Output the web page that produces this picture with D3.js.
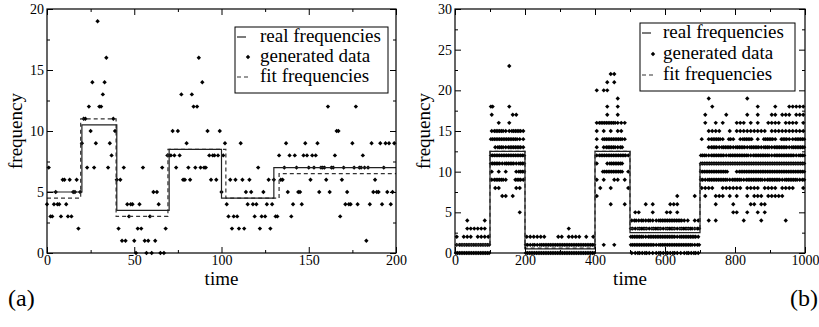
<!DOCTYPE html>
<html>
<head>
<meta charset="utf-8">
<script src="https://cdn.jsdelivr.net/npm/d3@7"></script>
<style>
  body { margin: 0; background: #fff; }
  svg text { font-family: "Liberation Serif", "Times New Roman", Times, "DejaVu Serif", serif; fill: #000; }
</style>
</head>
<body>
<svg id="chart" width="819" height="327"></svg>
<script>
// ---------- panel (a) data ----------
// generated data, one value per time step (index = time)
const freqA = [
  4, 7, 3, 3, 4, 5, 4, 4, 3, 6, 6, 4, 3, 6, 3, 5, 5, 6, 2, 5,
  9, 11, 11, 7, 12, 10, 14, 7, 9, 19, 12, 12, 13, 14, 16, 7, 9, 8, 11, 10,
  6, 2, 6, 1, 7, 1, 4, 3, 4, 4, 1, 0, 2, 4, 2, 7, 1, 0, 1, 3, 0, 5, 1, 5, 4, 0, 7, 0, 2, 8,
  8, 8, 10, 8, 7, 10, 8, 13, 6, 6, 9, 7, 6, 13, 12, 7, 12, 16, 7, 14, 7, 7, 10, 8, 6, 8, 8, 6, 8, 10,
  5, 8, 9, 4, 3, 6, 2, 3, 6, 3, 2, 9, 6, 2, 5, 4, 6, 5, 4, 3, 4, 7, 2, 3, 5, 3, 4, 6, 2, 4,
  6, 3, 3, 8, 6, 6, 7, 9, 5, 8, 3, 4, 8, 7, 5, 5, 4, 8, 9, 8,
  7, 6, 8, 7, 8, 9, 5, 7, 7, 7, 6, 12, 5, 7, 7, 8, 10, 10, 3, 6,
  7, 4, 5, 4, 4, 9, 7, 12, 4, 7, 7, 8, 7, 1, 7, 4, 9, 5, 6, 5,
  5, 9, 4, 7, 9, 5, 9, 4, 5, 9
];
const realStepsA = [0, 20, 40, 70, 100, 130, 200];
const realLevelsA = [5, 10.5, 3.5, 8.5, 4.5, 7];
const fitStepsA = [0, 19.3, 39.6, 69.3, 102.5, 133, 200];
const fitLevelsA = [4.5, 11, 3, 8.5, 4.5, 6.5];

// ---------- panel (b) data ----------
const realStepsB = [0, 100, 200, 400, 500, 700, 1000];
const realLevelsB = [1, 12.5, 0.5, 12.5, 2.5, 11];
const fitStepsB = [0, 100, 200, 400, 500, 700, 1000];
const fitLevelsB = [1, 12.5, 0.6, 12.5, 3, 11];
// generated data read per frequency row; each piece covers one segment of realStepsB,
// every character is a time bin holding that many dots
const dotRowsB = [
  ["2222222222", "", "22222222222222222222", "", "11212111212121112121", ""],
  ["1222222222", "", "21212222222222222222", "..1..1....", "22222221222222222212", ""],
  ["1.111.1111", "", "111111...11.1111.1.1", "", "22221222222221222221", ""],
  ["...111111.", "", "............1.......", "", "21222122212221222212", ""],
  ["...1....1.", "", "", "", "12121211222222211.11", "..1.1.......1....1......1....."],
  ["", "........1.", "", "", ".11...1...11.1......", ".........11..1..1.1..........."],
  ["", "", "", "....1...1.", "....1.1....111......", "....1....1....11.11..........."],
  ["", "...11.1...", "", "1.........", ".............1....1.", ".1..111.1.1..1.111.11111......"],
  ["", ".11....11.", "", ".1..1....1", "", "1111..111111.1111.1111.1111..1"],
  ["", "12221..221", "", "1.1..11.1.", "", "212222221222122222122221222212"],
  ["", "1.1.1..122", "", "..222222.1", "", "22222222..12222222222222222222"],
  ["", "2221222122", "", "1..12222..", "", "222222222222222222222222222222"],
  ["", "2222222222", "", "1222222221", "", "221222212222221222221222222122"],
  ["", ".122122221", "", "1.122212..", "", "..1221222122212221221222212222"],
  ["", "2222222211", "", "1.2222221.", "", "1.12221.21.1222.1.2221.2211222"],
  ["", "1222112221", "", "1.1.1.11..", "", "..1111..1.111111111.1111111111"],
  ["", "..1..1....", "", "122222111.", "", ".1..1.1...111.1.1..1111.1111.1"],
  ["", "1.....11..", "", "...1..1...", "", ".1.....1.....1..1...11.111.111"],
  ["", "2....1....", "", "...1..1...", "", "...1............1....1...11111"],
  ["", "", "", "......1...", "", "..1..........1................"],
  ["", "", "", "1.11......", "", ""],
  ["", "", "", "...1.1....", "", ""],
  ["", "", "", "....11....", "", ""],
  ["", ".....1....", "", "", "", ""]
];

// ---------- build point lists ----------
const dotsA = freqA.map((f, t) => [t, f]);

const dotsB = [];
dotRowsB.forEach((pieces, f) => {
  pieces.forEach((p, s) => {
    if (!p.length) return;
    const t0 = realStepsB[s], bw = (realStepsB[s + 1] - t0) / p.length;
    p.split("").forEach((c, i) => {
      const n = parseInt(c) || 0;
      for (let k = 0; k < n; k++) dotsB.push([t0 + i * bw + (k + 0.5) * bw / n, f]);
    });
  });
});

function steps(xs, levels) {
  const pts = levels.map((l, i) => [xs[i], l]);
  pts.push([xs[xs.length - 1], levels[levels.length - 1]]);
  return pts;
}

const svg = d3.select("#chart");
const diamond = "M0,-2.2L2.2,0L0,2.2L-2.2,0Z";
const FONT = '"Liberation Serif", "Times New Roman", Times, "DejaVu Serif", serif';

function drawPanel(cfg) {
  const g = svg.append("g");
  const x = d3.scaleLinear().domain(cfg.xDomain).range([cfg.left, cfg.right]);
  const y = d3.scaleLinear().domain(cfg.yDomain).range([253, 9]);

  // generated data
  g.append("g").selectAll("path")
    .data(cfg.dots)
    .join("path")
    .attr("d", diamond)
    .attr("transform", d => `translate(${x(d[0])},${y(d[1])})`)
    .attr("fill", "#000");

  const line = d3.line().x(d => x(d[0])).y(d => y(d[1])).curve(d3.curveStepAfter);

  // fit frequencies (dashed)
  g.append("path")
    .attr("d", line(cfg.fit))
    .attr("fill", "none")
    .attr("stroke", "#333")
    .attr("stroke-width", 1.2)
    .attr("stroke-dasharray", "4,3");

  // real frequencies
  g.append("path")
    .attr("d", line(cfg.real))
    .attr("fill", "none")
    .attr("stroke", "#222")
    .attr("stroke-width", 1.2);

  // axes: ticks inside on all four sides
  const y0 = y.range()[0], y1 = y.range()[1];
  const fmt = d3.format("d");
  const clean = sel => {
    sel.select(".domain").remove();
    sel.selectAll("line").attr("stroke", "#000");
    sel.attr("font-family", FONT).attr("font-size", 14);
  };
  g.append("g").attr("transform", `translate(0,${y0})`)
    .call(d3.axisBottom(x).tickValues(cfg.xMajor).tickSize(-6).tickPadding(2).tickFormat(fmt))
    .call(clean);
  g.append("g").attr("transform", `translate(0,${y0})`)
    .call(d3.axisBottom(x).tickValues(cfg.xMinor).tickSize(-3).tickFormat(""))
    .call(clean);
  g.append("g").attr("transform", `translate(0,${y1})`)
    .call(d3.axisTop(x).tickValues(cfg.xMajor).tickSize(-6).tickFormat(""))
    .call(clean);
  g.append("g").attr("transform", `translate(0,${y1})`)
    .call(d3.axisTop(x).tickValues(cfg.xMinor).tickSize(-3).tickFormat(""))
    .call(clean);
  g.append("g").attr("transform", `translate(${cfg.left},0)`)
    .call(d3.axisLeft(y).tickValues(cfg.yMajor).tickSize(-6).tickPadding(3).tickFormat(fmt))
    .call(clean);
  g.append("g").attr("transform", `translate(${cfg.left},0)`)
    .call(d3.axisLeft(y).tickValues(cfg.yMinor).tickSize(-3).tickFormat(""))
    .call(clean);
  g.append("g").attr("transform", `translate(${cfg.right},0)`)
    .call(d3.axisRight(y).tickValues(cfg.yMajor).tickSize(-6).tickFormat(""))
    .call(clean);
  g.append("g").attr("transform", `translate(${cfg.right},0)`)
    .call(d3.axisRight(y).tickValues(cfg.yMinor).tickSize(-3).tickFormat(""))
    .call(clean);

  // frame
  g.append("rect")
    .attr("x", cfg.left).attr("y", y1)
    .attr("width", cfg.right - cfg.left).attr("height", y0 - y1)
    .attr("fill", "none").attr("stroke", "#000").attr("stroke-width", 1.2);

  // axis titles
  g.append("text")
    .attr("x", (cfg.left + cfg.right) / 2).attr("y", 285)
    .attr("text-anchor", "middle").attr("font-size", 19)
    .attr("font-family", FONT)
    .text("time");
  g.append("text")
    .attr("transform", `translate(${cfg.left - 25},${(y0 + y1) / 2}) rotate(-90)`)
    .attr("text-anchor", "middle").attr("font-size", 19)
    .attr("font-family", FONT)
    .text("frequency");

  // legend
  const L = cfg.legend;
  const lg = g.append("g").attr("transform", `translate(${L.x},${L.y})`);
  lg.append("rect").attr("width", L.w).attr("height", L.h)
    .attr("fill", "#fff").attr("stroke", "#000").attr("stroke-width", 1);
  const labels = ["real frequencies", "generated data", "fit frequencies"];
  lg.selectAll("text.lab").data(labels).join("text")
    .attr("class", "lab")
    .attr("x", L.tx).attr("y", (d, i) => L.b0 + i * L.gap)
    .attr("font-size", 19)
    .attr("font-family", FONT)
    .text(d => d);
  lg.append("line").attr("x1", 2).attr("x2", 11)
    .attr("y1", L.b0 - 5).attr("y2", L.b0 - 5)
    .attr("stroke", "#222").attr("stroke-width", 1.2);
  lg.append("path").attr("d", diamond)
    .attr("transform", `translate(13,${L.b0 + L.gap - 5})`);
  lg.append("line").attr("x1", 2).attr("x2", 15)
    .attr("y1", L.b0 + 2 * L.gap - 5).attr("y2", L.b0 + 2 * L.gap - 5)
    .attr("stroke", "#333").attr("stroke-width", 1.2)
    .attr("stroke-dasharray", "4,3");

  // panel tag
  svg.append("text")
    .attr("x", cfg.tagX).attr("y", 306)
    .attr("text-anchor", cfg.tagAnchor)
    .attr("font-size", 24)
    .attr("font-family", FONT)
    .text(cfg.tag);
}

drawPanel({
  left: 47, right: 396,
  xDomain: [0, 200], yDomain: [0, 20],
  xMajor: [0, 50, 100, 150, 200], xMinor: [25, 75, 125, 175],
  yMajor: [0, 5, 10, 15, 20], yMinor: [2.5, 7.5, 12.5, 17.5],
  dots: dotsA,
  real: steps(realStepsA, realLevelsA),
  fit: steps(fitStepsA, fitLevelsA),
  legend: { x: 235, y: 27, w: 153, h: 66, tx: 25, b0: 15, gap: 20 },
  tag: "(a)", tagX: 8, tagAnchor: "start"
});

drawPanel({
  left: 455, right: 805,
  xDomain: [0, 1000], yDomain: [0, 30],
  xMajor: [0, 200, 400, 600, 800, 1000], xMinor: [100, 300, 500, 700, 900],
  yMajor: [0, 5, 10, 15, 20, 25, 30], yMinor: [2.5, 7.5, 12.5, 17.5, 22.5, 27.5],
  dots: dotsB,
  real: steps(realStepsB, realLevelsB),
  fit: steps(fitStepsB, fitLevelsB),
  legend: { x: 640, y: 23, w: 155, h: 68, tx: 23, b0: 15, gap: 21 },
  tag: "(b)", tagX: 818, tagAnchor: "end"
});
</script>
</body>
</html>
